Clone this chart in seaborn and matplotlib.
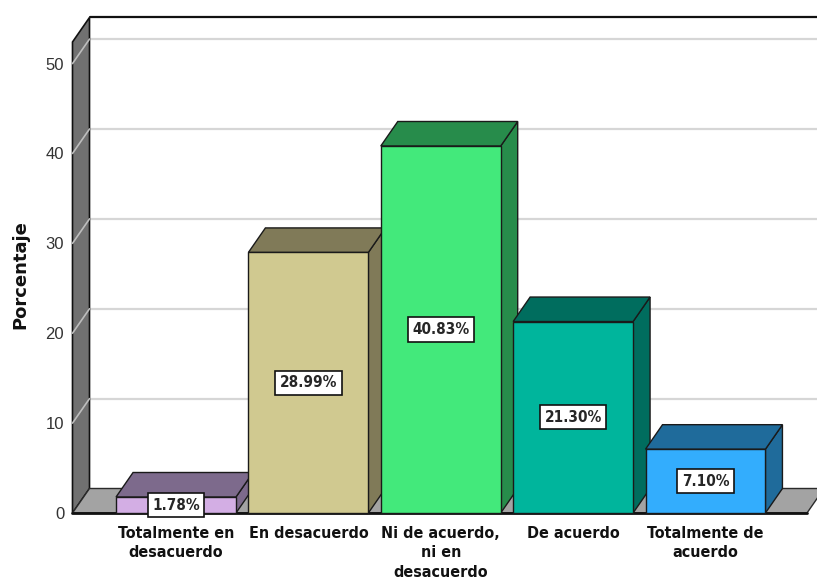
import matplotlib
matplotlib.use("Agg")
import matplotlib.pyplot as plt
from matplotlib import font_manager
from matplotlib.patches import Polygon
import pandas as pd
import seaborn as sns

# datos
categorias = ["Totalmente en\ndesacuerdo", "En desacuerdo",
              "Ni de acuerdo,\nni en\ndesacuerdo", "De acuerdo",
              "Totalmente de\nacuerdo"]
porcentajes = [1.78, 28.99, 40.83, 21.30, 7.10]
etiquetas = ["1.78%", "28.99%", "40.83%", "21.30%", "7.10%"]
marcas_y = [0, 10, 20, 30, 40, 50]

colores_frente = ["#d3aee4", "#d0c990", "#43e97b", "#00b59c", "#33adfd"]
colores_lado = ["#7d6a8c", "#807a58", "#278c4b", "#006d5e", "#1f6b9b"]

# fuentes: se busca una variante estrecha si existe
nombres = {f.name for f in font_manager.fontManager.ttflist}
ruta_cond = font_manager.findfont(font_manager.FontProperties(
    family="DejaVu Sans", weight="bold", stretch="condensed"))
if "Liberation Sans Narrow" in nombres:
    fuente_cat = dict(family="Liberation Sans Narrow", weight="bold", size=14)
    fuente_val = dict(family="Liberation Sans Narrow", weight="bold", size=14)
elif "Condensed" in ruta_cond:
    fuente_cat = dict(family="DejaVu Sans", weight="bold", stretch="condensed", size=11.5)
    fuente_val = dict(family="DejaVu Sans", weight="bold", stretch="condensed", size=11)
else:
    fuente_cat = dict(family="DejaVu Sans", weight="bold", size=10.5)
    fuente_val = dict(family="DejaVu Sans", weight="bold", size=10)
fuente_ejes = "Liberation Sans" if "Liberation Sans" in nombres else "DejaVu Sans"

sns.set_style("white")

W, H = 817, 581
fig = plt.figure(figsize=(W / 100, H / 100), dpi=100)
# plano frontal del grafico en pixeles
izq, der, abajo, arriba = 72.5, 807, 513, 42
ax = fig.add_axes([izq / W, (H - abajo) / H, (der - izq) / W, (abajo - arriba) / H])

df = pd.DataFrame({"categoria": categorias, "porcentaje": porcentajes})
sns.barplot(data=df, x="categoria", y="porcentaje", hue="categoria",
            palette=colores_frente, saturation=1, width=0.906,
            edgecolor="#1a1a1a", linewidth=1, legend=False, ax=ax)

xmin, xmax = -0.782, 4.767
ymin, ymax = 0, 52.4
ax.set_xlim(xmin, xmax)
ax.set_ylim(ymin, ymax)

# profundidad 3D (pixeles -> unidades de datos)
DX, DY = 17, 24.5
ddx = DX / ((der - izq) / (xmax - xmin))
ddy = DY / ((abajo - arriba) / (ymax - ymin))

# pared del fondo: lineas de cuadricula y borde superior
for t in marcas_y[1:]:
    ax.plot([xmin + ddx, xmax + ddx + 1], [t + ddy, t + ddy], color="#d6d6d6",
            lw=1.6, clip_on=False, zorder=0.5)
ax.plot([xmin + ddx, xmax + ddx + 1], [ymax + ddy, ymax + ddy], color="#111111",
        lw=1.6, clip_on=False, zorder=0.6)

# pared izquierda
ax.add_patch(Polygon([(xmin, 0), (xmin, ymax), (xmin + ddx, ymax + ddy), (xmin + ddx, ddy)],
                     closed=True, fc="#717171", ec="#111111", lw=1.2, clip_on=False, zorder=1))
for t in marcas_y[1:]:
    ax.plot([xmin, xmin + ddx], [t, t + ddy], color="#bdbdbd", lw=1.2,
            clip_on=False, zorder=1.1)

# piso
ax.add_patch(Polygon([(xmin, 0), (xmax, 0), (xmax + ddx, ddy), (xmin + ddx, ddy)],
                     closed=True, fc="#a3a3a3", ec="#2a2a2a", lw=1, clip_on=False, zorder=1))
ax.plot([xmin, xmax], [0, 0], color="#111111", lw=2, clip_on=False, zorder=1.2)

# caras superiores y laterales de las barras
for i, p in enumerate(ax.patches[:len(categorias)]):
    x0, w, h = p.get_x(), p.get_width(), p.get_height()
    p.set_zorder(4 + 2 * i)
    p.set_clip_on(False)
    lado = [(x0 + w, 0), (x0 + w, h), (x0 + w + ddx, h + ddy), (x0 + w + ddx, ddy)]
    tapa = [(x0, h), (x0 + w, h), (x0 + w + ddx, h + ddy), (x0 + ddx, h + ddy)]
    for pts in (lado, tapa):
        ax.add_patch(Polygon(pts, closed=True, fc=colores_lado[i], ec="#1a1a1a",
                             lw=1, clip_on=False, zorder=3 + 2 * i))
    ax.text(x0 + w / 2, h / 2, etiquetas[i], ha="center", va="center",
            fontdict=fuente_val, zorder=30,
            bbox=dict(boxstyle="square,pad=0.3", fc="white", ec="#111111", lw=1.2))

for s in ax.spines.values():
    s.set_visible(False)

ax.set_yticks(marcas_y)
ax.set_yticklabels([str(t) for t in marcas_y], family=fuente_ejes, size=12, color="#333333")
ax.tick_params(axis="y", length=0, pad=6)
ax.tick_params(axis="x", length=0, pad=9)
for lbl in ax.get_xticklabels():
    lbl.set_fontproperties(font_manager.FontProperties(**fuente_cat))
    lbl.set_linespacing(1.4)
    lbl.set_color("#111111")

ax.set_xlabel("")
ax.set_ylabel("")
fig.text(20 / W, 1 - 275 / H, "Porcentaje", rotation=90, ha="center", va="center",
         family="DejaVu Sans", weight="bold", size=13, color="#111111")

fig.savefig("out.png", dpi=100)
